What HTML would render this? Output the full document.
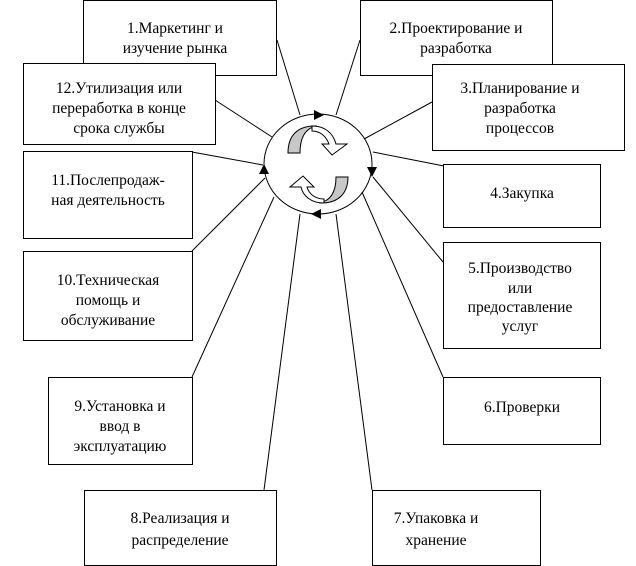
<!DOCTYPE html>
<html><head><meta charset="utf-8"><style>
html,body{margin:0;padding:0;background:#fff;}
svg{display:block;}
text{font-family:"Liberation Serif",serif;font-size:15.5px;fill:#000;text-anchor:middle;}
</style></head><body>
<svg width="636" height="566" viewBox="0 0 636 566" xmlns="http://www.w3.org/2000/svg">
<g stroke="#000" stroke-width="1" fill="none">
<line x1="277" y1="40" x2="300" y2="115"/>
<line x1="360" y1="40" x2="336" y2="115"/>
<line x1="215" y1="100" x2="272" y2="137"/>
<line x1="432" y1="102" x2="364" y2="139"/>
<line x1="192" y1="152" x2="263" y2="165"/>
<line x1="373" y1="152" x2="444" y2="166"/>
<line x1="373" y1="177" x2="443" y2="262"/>
<line x1="362" y1="192" x2="443" y2="377"/>
<line x1="265" y1="178" x2="192" y2="251"/>
<line x1="274" y1="197" x2="192" y2="377"/>
<line x1="300" y1="214" x2="264" y2="490"/>
<line x1="336" y1="214" x2="372" y2="490"/>
<ellipse cx="318" cy="164" rx="54" ry="50"/>
</g>
<g fill="#000">
<polygon points="324,115 314,110 314,120"/>
<polygon points="372,177 367,167 377,167"/>
<polygon points="311,214 321,209 321,219"/>
<polygon points="264,164 259,174 269,174"/>
</g>
<g stroke="#000" stroke-width="1">
<path d="M288,153 C288,135 298,127 312,126 L317,126 C305,128 300,138 300,153 Z" fill="#c8c8c8"/>
<path d="M312,126 C325,126 333,133 336,144 L347,144 L332,155 L322,144 L329,144 C326,136 320,131 312,131 Z" fill="#fff"/>
<path d="M348,177 C348,194 338,202 324,203 L319,203 C331,201 336,191 336,177 Z" fill="#c8c8c8"/>
<path d="M324,203 C311,203 303,196 301,187 L290,187 L303,176 L314,187 L307,187 C309,194 315,199 324,199 Z" fill="#fff"/>
</g>
<g stroke="#000" stroke-width="1" fill="#fff">
<rect x="83.5" y="0.5" width="193" height="75"/>
<rect x="360.5" y="0.5" width="192" height="75"/>
<rect x="23.5" y="63.5" width="192" height="81"/>
<rect x="432.5" y="64.5" width="192" height="86"/>
<rect x="23.5" y="151.5" width="169" height="87"/>
<rect x="443.5" y="164.5" width="157" height="63"/>
<rect x="23.5" y="251.5" width="169" height="89"/>
<rect x="443.5" y="242.5" width="157" height="106"/>
<rect x="48.5" y="377.5" width="144" height="87"/>
<rect x="443.5" y="377.5" width="157" height="67"/>
<rect x="84.5" y="490.5" width="192" height="75"/>
<rect x="372.5" y="490.5" width="168" height="75"/>
</g>
<text x="175" y="33">1.Маркетинг и</text>
<text x="175" y="53">изучение рынка</text>
<text x="456" y="33">2.Проектирование и</text>
<text x="456" y="53">разработка</text>
<text x="119" y="93">12.Утилизация или</text>
<text x="119" y="113">переработка в конце</text>
<text x="119" y="133">срока службы</text>
<text x="520" y="93">3.Планирование и</text>
<text x="520" y="113">разработка</text>
<text x="520" y="133">процессов</text>
<text x="108" y="185">11.Послепродаж-</text>
<text x="108" y="205">ная деятельность</text>
<text x="522" y="198">4.Закупка</text>
<text x="108" y="285">10.Техническая</text>
<text x="108" y="305">помощь и</text>
<text x="108" y="325">обслуживание</text>
<text x="520" y="273">5.Производство</text>
<text x="520" y="293">или</text>
<text x="520" y="312">предоставление</text>
<text x="520" y="331">услуг</text>
<text x="120" y="411">9.Установка и</text>
<text x="120" y="431">ввод в</text>
<text x="120" y="451">эксплуатацию</text>
<text x="522" y="412">6.Проверки</text>
<text x="180" y="523">8.Реализация и</text>
<text x="180" y="545">распределение</text>
<text x="436" y="523">7.Упаковка и</text>
<text x="436" y="545">хранение</text>
</svg>
</body></html>
